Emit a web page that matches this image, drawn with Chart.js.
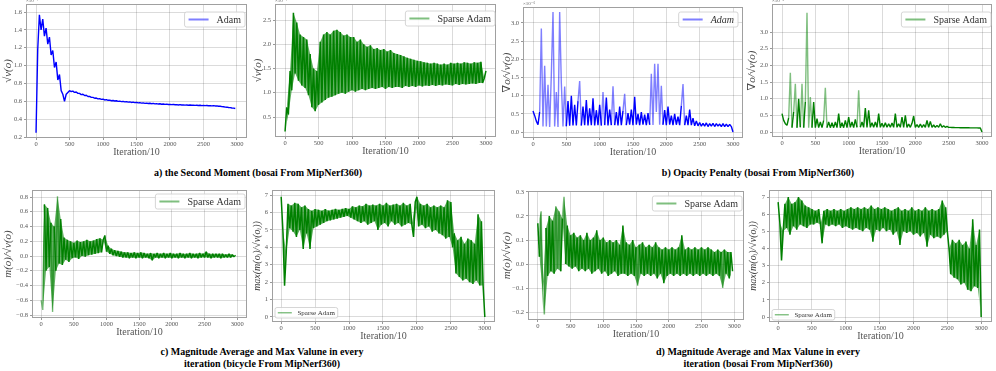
<!DOCTYPE html>
<html><head><meta charset="utf-8">
<script src="https://cdn.jsdelivr.net/npm/chart.js@4.4.1/dist/chart.umd.min.js"></script>
<style>
body{margin:0;background:#fff;width:996px;height:371px;overflow:hidden;position:relative;font-family:"Liberation Serif","DejaVu Serif",serif}
canvas{position:absolute}
.cap{position:absolute;text-align:center;font-weight:bold;font-size:10px;line-height:12px;color:#000;white-space:nowrap}
</style></head><body>
<canvas id="c0"></canvas><canvas id="c1"></canvas><canvas id="c2"></canvas><canvas id="c3"></canvas>
<canvas id="c4"></canvas><canvas id="c5"></canvas><canvas id="c6"></canvas><canvas id="c7"></canvas>
<div class="cap" style="left:0;top:167px;width:516px">a) the Second Moment (bosai From MipNerf360)</div>
<div class="cap" style="left:500px;top:167px;width:516px">b) Opacity Penalty (bosai From MipNerf360)</div>
<div class="cap" style="left:0;top:346px;width:524px">c) Magnitude Average and Max Valune in every<br>iteration (bicycle From MipNerf360)</div>
<div class="cap" style="left:500px;top:346px;width:516px">d) Magnitude Average and Max Valune in every<br>iteration (bosai From MipNerf360)</div>
<script>
// ---------------- data ----------------
const iterTicks = [0, 500, 1000, 1500, 2000, 2500, 3000];
const iterTickLabels = ['0', '500', '1000', '1500', '2000', '2500', '3000'];
const logEvery = 25; // one logged value every 25 (Iteration/10) units
const seriesAdam = 'Adam';
const seriesSparse = 'Sparse Adam';

const secondMomentAdam = [0.25,1.18,1.57,1.40,1.52,1.33,1.42,1.24,1.32,1.12,
 1.17,0.98,1.04,0.84,0.90,0.72,0.68,0.60,0.68,0.70,
 0.72,0.71,0.715,0.70,0.705,0.69,0.69,0.675,0.68,0.665,
 0.668,0.655,0.655,0.645,0.645,0.635,0.637,0.628,0.63,0.622,
 0.625,0.616,0.619,0.612,0.614,0.607,0.610,0.604,0.607,0.600,
 0.603,0.597,0.600,0.594,0.597,0.591,0.594,0.588,0.591,0.586,
 0.589,0.583,0.586,0.580,0.583,0.578,0.581,0.576,0.579,0.574,
 0.577,0.572,0.575,0.570,0.573,0.568,0.571,0.566,0.569,0.565,
 0.567,0.563,0.566,0.562,0.564,0.560,0.563,0.559,0.561,0.558,
 0.560,0.557,0.559,0.556,0.558,0.555,0.557,0.554,0.556,0.553,
 0.555,0.552,0.554,0.551,0.553,0.550,0.552,0.549,0.550,0.546,
 0.545,0.541,0.540,0.536,0.535,0.531,0.530,0.526,0.524,0.520];

const secondMomentSparse = [0.20,0.70,0.55,1.45,1.05,2.65,1.40,2.45,1.25,2.20,
 1.15,2.15,1.10,2.10,0.95,1.80,0.70,1.50,0.62,1.45,
 0.75,2.05,0.80,2.20,0.85,2.25,0.90,2.20,0.92,2.28,
 0.95,2.30,0.98,2.25,1.00,2.18,0.98,2.20,1.02,2.15,
 1.05,2.15,1.02,2.05,1.05,2.10,1.08,2.00,1.05,1.95,
 1.08,1.98,1.10,1.90,1.08,1.92,1.10,1.88,1.12,1.90,
 1.08,1.85,1.12,1.88,1.10,1.82,1.12,1.80,1.12,1.78,
 1.10,1.75,1.14,1.72,1.12,1.70,1.14,1.68,1.12,1.66,
 1.15,1.65,1.13,1.63,1.15,1.62,1.14,1.60,1.16,1.62,
 1.14,1.60,1.16,1.58,1.15,1.60,1.17,1.58,1.16,1.62,
 1.15,1.60,1.18,1.62,1.16,1.60,1.18,1.63,1.17,1.62,
 1.18,1.60,1.19,1.63,1.18,1.62,1.20,1.64,1.20,1.30,
 1.45];

const opacityAdam = [0.58,0.45,0.30,0.20,0.55,2.85,0.15,1.82,0.15,1.30,
 0.14,1.58,3.30,0.15,1.10,0.14,3.30,1.35,0.15,1.25,
 0.16,0.85,0.17,1.00,0.18,0.75,0.18,0.85,1.40,0.18,
 0.70,0.19,0.88,0.18,0.65,0.19,0.93,0.18,0.60,0.19,
 0.75,0.18,1.10,0.19,0.95,0.18,0.62,0.19,1.26,0.19,
 0.55,0.18,0.70,0.19,0.58,1.05,0.19,0.52,0.20,0.62,
 0.19,0.97,0.20,0.50,0.19,0.55,0.20,0.48,0.19,0.52,
 0.20,1.60,0.19,1.88,0.55,1.88,0.20,1.27,0.20,0.60,
 0.19,0.70,0.20,0.45,0.19,0.50,0.20,0.42,0.19,0.72,
 1.32,0.19,0.45,0.19,0.62,0.19,0.38,0.17,0.30,0.17,
 0.26,0.16,0.24,0.16,0.25,0.15,0.23,0.16,0.24,0.15,
 0.23,0.16,0.22,0.15,0.23,0.15,0.22,0.15,0.21,0.15,
 0.00];

const opacitySparse = [0.55,0.35,0.25,0.20,0.42,1.78,0.13,0.60,1.45,0.13,
 1.00,0.14,1.45,0.13,0.90,3.58,0.13,1.05,0.13,0.90,
 0.13,0.40,0.13,0.30,0.13,0.35,1.33,0.13,0.30,0.13,
 0.28,0.13,0.30,0.13,0.55,0.13,0.28,0.13,0.35,0.13,
 0.45,0.14,0.30,0.13,0.38,0.14,1.25,0.14,0.30,0.14,
 0.72,0.14,0.65,0.14,0.28,0.14,0.30,0.14,0.55,0.14,
 0.26,0.14,0.28,0.14,0.25,0.14,0.27,0.14,0.55,0.14,
 0.25,0.14,0.45,0.14,0.50,0.14,0.24,0.14,0.26,0.48,
 0.14,0.22,0.14,0.24,0.14,0.22,0.14,0.35,0.14,0.32,
 0.14,0.21,0.14,0.20,0.14,0.25,0.14,0.19,0.14,0.17,
 0.14,0.14,0.135,0.135,0.13,0.13,0.13,0.128,0.128,0.127,
 0.127,0.126,0.126,0.125,0.125,0.124,0.124,0.123,0.122,0.121,
 0.00];

const magAvgBicycle = [-0.60,-0.73,0.70,-0.20,0.65,-0.15,0.45,-0.76,0.40,-0.20,
 0.81,-0.10,0.50,-0.12,0.25,-0.05,0.22,-0.08,0.20,-0.03,
 0.18,-0.02,0.21,-0.04,0.19,0.00,0.20,-0.01,0.22,0.01,
 0.20,0.02,0.21,0.03,0.23,0.04,0.24,0.05,0.22,0.28,
 0.06,0.14,0.03,0.10,0.01,0.08,0.00,0.07,-0.01,0.06,
 -0.02,0.05,-0.02,0.05,-0.03,0.04,-0.02,0.05,-0.03,0.04,
 -0.02,0.05,-0.03,0.04,-0.02,0.03,-0.03,0.04,-0.06,0.03,
 -0.02,0.04,-0.03,0.03,-0.02,0.04,-0.03,0.03,-0.02,0.04,
 -0.03,0.03,-0.02,0.03,-0.03,0.04,-0.02,0.03,-0.03,0.03,
 -0.02,0.04,-0.03,0.03,-0.02,0.03,-0.03,0.04,-0.02,0.03,
 -0.02,0.06,-0.02,0.03,-0.03,0.03,-0.02,0.03,-0.02,0.03,
 -0.03,0.03,-0.02,0.02,-0.02,0.03,-0.02,0.02,-0.01,0.01];

const magMaxBicycle = [6.90,5.00,1.80,3.70,6.50,5.10,6.40,4.90,6.55,4.60,
 6.50,5.00,6.30,3.90,6.40,4.80,6.20,3.90,6.10,5.10,
 6.20,5.20,6.15,5.30,6.10,5.40,6.20,5.50,6.10,5.55,
 6.15,5.60,6.20,5.65,6.15,5.70,6.20,5.75,6.25,5.80,
 6.20,5.70,6.35,5.60,6.30,5.50,6.40,5.40,6.35,5.50,
 6.50,5.30,6.40,5.40,6.45,5.50,6.40,5.00,6.50,5.30,
 6.40,5.40,6.55,5.20,6.40,5.50,6.45,5.30,6.50,5.40,
 6.40,5.20,6.55,5.30,6.40,5.40,6.50,5.30,4.60,6.60,
 6.90,5.20,6.50,5.30,6.40,5.10,6.50,5.20,6.30,4.90,
 6.40,5.00,6.30,4.80,6.40,4.70,6.30,4.50,6.70,4.60,
 6.60,4.00,4.80,2.50,4.40,2.30,4.60,2.10,4.20,2.20,
 4.50,2.00,4.40,1.90,4.20,2.10,5.90,1.80,5.50,1.80,
 0.00];

const magAvgBosai = [0.17,0.03,0.22,-0.12,-0.21,0.15,-0.05,0.20,-0.03,0.18,
 -0.04,0.24,-0.02,0.22,-0.03,0.19,0.28,0.00,0.16,-0.01,
 0.12,-0.02,0.13,-0.01,0.11,-0.03,0.12,-0.02,0.10,-0.03,
 0.13,-0.02,0.10,-0.04,0.11,-0.03,0.14,-0.02,0.10,-0.04,
 0.11,-0.03,0.09,-0.05,0.10,-0.04,0.09,-0.03,0.10,-0.05,
 0.08,-0.04,0.16,-0.04,0.09,-0.05,0.08,-0.04,0.10,-0.05,
 0.07,-0.09,0.08,-0.04,0.09,-0.05,0.07,-0.04,0.08,-0.05,
 0.07,-0.04,0.09,-0.06,0.07,-0.04,0.06,-0.08,0.07,-0.05,
 0.06,-0.04,0.07,-0.05,0.06,-0.04,0.07,-0.05,0.12,-0.04,
 0.06,-0.05,0.07,-0.04,0.06,-0.05,0.07,-0.04,0.06,-0.05,
 0.07,-0.04,0.06,-0.05,0.07,-0.04,0.06,-0.05,0.05,-0.04,
 0.06,-0.05,0.05,-0.10,0.06,-0.04,0.05,-0.06,0.05,-0.03];

const magMaxBosai = [6.70,5.50,3.30,5.00,6.60,5.20,7.00,4.80,6.60,5.30,
 6.70,5.10,7.00,5.40,6.80,5.30,6.50,5.20,6.40,5.40,
 6.30,5.40,6.20,5.50,6.30,5.40,4.30,6.20,5.40,6.30,
 5.30,6.20,5.40,6.30,5.30,6.20,5.40,6.30,5.20,6.20,
 5.30,6.30,5.20,6.40,5.10,6.30,5.20,6.40,5.10,6.30,
 5.00,6.40,5.20,6.30,5.10,6.50,4.40,6.30,5.10,6.40,
 5.00,6.30,5.20,6.40,5.00,6.30,5.10,6.20,4.80,6.30,
 5.00,6.40,4.20,6.20,5.00,6.30,4.90,6.20,5.00,6.40,
 4.80,6.20,4.90,6.30,4.70,6.20,4.90,6.40,4.10,6.20,
 4.80,6.30,4.60,6.20,4.70,6.30,4.60,6.80,4.80,6.40,
 5.00,4.00,2.50,4.50,2.30,4.30,2.20,4.50,1.90,4.20,
 2.00,4.40,1.60,4.00,1.50,5.70,1.80,4.20,1.70,5.10,
 0.00];

const ticksA1 = [0.2, 0.4, 0.6, 0.8, 1.0, 1.2, 1.4, 1.6];
const labelsA1 = ['0.2', '0.4', '0.6', '0.8', '1.0', '1.2', '1.4', '1.6'];
const ticksA2 = [0.5, 1.0, 1.5, 2.0, 2.5];
const labelsA2 = ['0.5', '1.0', '1.5', '2.0', '2.5'];
const ticksB = [0, 0.5, 1.0, 1.5, 2.0, 2.5, 3.0];
const labelsB = ['0.0', '0.5', '1.0', '1.5', '2.0', '2.5', '3.0'];
const ticksC1 = [-0.8, -0.6, -0.4, -0.2, 0, 0.2, 0.4, 0.6, 0.8];
const labelsC1 = ['\u22120.8', '\u22120.6', '\u22120.4', '\u22120.2', '0.0', '0.2', '0.4', '0.6', '0.8'];
const ticksD1 = [-0.2, -0.1, 0, 0.1, 0.2, 0.3];
const labelsD1 = ['\u22120.2', '\u22120.1', '0.0', '0.1', '0.2', '0.3'];
const ticksMax = [0, 1, 2, 3, 4, 5, 6, 7];
const labelsMax = ['0', '1', '2', '3', '4', '5', '6', '7'];

// ---------------- drawing ----------------
const SERIF = '"Liberation Serif", "DejaVu Serif", serif';
const BLUE = '#0000ff', BLUE_L = 'rgba(0,0,255,0.5)';
const GREEN = '#008000', GREEN_L = 'rgba(0,128,0,0.5)', GREEN_F = 'rgba(0,128,0,0.62)';

function toPoints(vals) { return vals.map((v, i) => ({ x: i * logEvery, y: v })); }

const decorPlugin = {
  id: 'decor',
  afterDraw(chart, args, o) {
    const ctx = chart.ctx, a = chart.chartArea;
    ctx.save();
    ctx.strokeStyle = '#a0a0a0'; ctx.lineWidth = 1;
    ctx.strokeRect(a.left + 0.5, a.top + 0.5, a.right - a.left - 1, a.bottom - a.top - 1);
    if (o.offset) {
      ctx.fillStyle = '#666'; ctx.font = '5px ' + SERIF;
      ctx.textAlign = 'left'; ctx.textBaseline = 'bottom';
      ctx.fillText(o.offset, a.left, a.top - 0.5);
    }
    if (o.text) {
      const fs = o.size;
      ctx.font = (o.italic ? 'italic ' : '') + fs + 'px ' + SERIF;
      const tw = ctx.measureText(o.text).width;
      const pad = 0.4 * fs, hl = 2 * fs, hp = 0.8 * fs;
      const w = pad * 2 + hl + hp + tw, h = fs * 1.5;
      let x, y;
      if (o.pos === 'ur') { x = a.right - o.inset[0] - w; y = a.top + o.inset[1]; }
      else { x = a.left + o.inset[0]; y = a.bottom - o.inset[1] - h; }
      ctx.fillStyle = 'rgba(255,255,255,0.85)'; ctx.strokeStyle = '#cccccc'; ctx.lineWidth = 0.8;
      ctx.beginPath();
      if (ctx.roundRect) ctx.roundRect(x, y, w, h, 2); else ctx.rect(x, y, w, h);
      ctx.fill(); ctx.stroke();
      ctx.strokeStyle = o.color; ctx.lineWidth = fs * 0.2;
      ctx.beginPath(); ctx.moveTo(x + pad, y + h / 2); ctx.lineTo(x + pad + hl, y + h / 2); ctx.stroke();
      ctx.fillStyle = '#333'; ctx.textAlign = 'left'; ctx.textBaseline = 'middle';
      ctx.fillText(o.text, x + pad + hl + hp, y + h / 2 + 0.5);
    }
    ctx.restore();
  }
};

function build(cfg) {
  const el = document.getElementById(cfg.id);
  const padT = 8, padR = 8, xH = 19;
  const w = cfg.yW + (cfg.R - cfg.L) + padR;
  const h = padT + (cfg.B - cfg.T) + xH;
  el.width = w; el.height = h;
  el.style.width = w + 'px'; el.style.height = h + 'px';
  el.style.left = (cfg.L - cfg.yW) + 'px';
  el.style.top = (cfg.T - padT) + 'px';
  const light = cfg.light;
  const pts = toPoints(cfg.values);
  const datasets = [{
    label: cfg.name, data: pts,
    borderColor: cfg.color, borderWidth: cfg.lw, borderJoinStyle: 'bevel',
    pointRadius: 0, tension: 0, fill: false,
    segment: { borderColor: c => {
      if (!light) return undefined;
      const y0 = c.p0.parsed.y, y1 = c.p1.parsed.y;
      if ((light.above !== undefined && Math.max(y0, y1) > light.above) ||
          (light.below !== undefined && Math.min(y0, y1) < light.below)) return cfg.lightColor;
      return undefined;
    } }
  }];
  if (cfg.band) {
    datasets.push({ data: pts.filter((p, i) => i % 2 === 0), borderWidth: 0, pointRadius: 0, tension: 0,
                    backgroundColor: GREEN_F, fill: '+1' });
    datasets.push({ data: pts.filter((p, i) => i % 2 === 1), borderWidth: 0, pointRadius: 0, tension: 0, fill: false });
  }
  new Chart(el, {
    type: 'line',
    data: { datasets },
    options: {
      responsive: false, animation: false, devicePixelRatio: 1,
      layout: { padding: { top: padT, right: padR, left: 0, bottom: 0 } },
      plugins: {
        legend: { display: false }, tooltip: { enabled: false },
        filler: { propagate: false },
        decor: { offset: cfg.offset, text: cfg.name, color: cfg.lightColor, size: cfg.lsize,
                 pos: cfg.lpos, inset: cfg.linset, italic: cfg.litalic }
      },
      scales: {
        x: {
          type: 'linear', min: cfg.xr[0], max: cfg.xr[1],
          afterBuildTicks: s => { s.ticks = iterTicks.map(v => ({ value: v })); },
          afterFit: s => { s.height = xH; },
          ticks: { callback: (v, i) => iterTickLabels[i], font: { family: SERIF, size: 6.5 }, color: '#555',
                   padding: 0, maxRotation: 0, autoSkip: false },
          grid: { color: 'rgba(0,0,0,0.14)', tickLength: 2, tickColor: '#999' },
          border: { display: false },
          title: { display: true, text: 'Iteration/10', font: { family: SERIF, size: 10, lineHeight: 1 },
                   color: '#555', padding: { top: 0, bottom: 0 } }
        },
        y: {
          type: 'linear', min: cfg.yr[0], max: cfg.yr[1],
          afterBuildTicks: s => { s.ticks = cfg.yTicks.map(v => ({ value: v })); },
          afterFit: s => { s.width = cfg.yW; },
          ticks: { callback: (v, i) => cfg.yLabels[i], font: { family: SERIF, size: 6.5 }, color: '#555',
                   padding: 2, autoSkip: false },
          grid: { color: 'rgba(0,0,0,0.14)', tickLength: 2, tickColor: '#999' },
          border: { display: false },
          title: { display: true, text: cfg.yTitle, font: { family: SERIF, size: cfg.ytSize || 11, style: 'italic', lineHeight: 1 },
                   color: '#444', padding: { top: cfg.ytPad, bottom: 0 } }
        }
      }
    },
    plugins: [decorPlugin]
  });
}

const charts = [
  { id: 'c0', values: secondMomentAdam, name: seriesAdam, color: BLUE, lightColor: BLUE_L, lw: 1.4,
    L: 26, T: 4, R: 247, B: 138, yW: 26, xr: [-150, 3150], yr: [0.19, 1.69],
    yTicks: ticksA1, yLabels: labelsA1, yTitle: '\u221Av(o)', ytPad: 3, offset: '\u00D710\u207B\u2077',
    lsize: 10, lpos: 'ur', linset: [2, 8] },
  { id: 'c1', values: secondMomentSparse, name: seriesSparse, color: GREEN, lightColor: GREEN_L, lw: 1.5, band: true,
    L: 275, T: 4, R: 496, B: 137, yW: 25, xr: [-150, 3150], yr: [0.088, 2.83],
    yTicks: ticksA2, yLabels: labelsA2, yTitle: '\u221Av(o)', ytPad: 3, offset: '\u00D710\u207B\u2077',
    lsize: 10, lpos: 'ur', linset: [1, 7] },
  { id: 'c2', values: opacityAdam, name: seriesAdam, color: BLUE, lightColor: BLUE_L, light: { above: 1.0 }, lw: 1.4,
    L: 523, T: 7, R: 743, B: 138, yW: 23, xr: [-150, 3150], yr: [-0.165, 3.44],
    yTicks: ticksB, yLabels: labelsB, yTitle: '\u2207o/\u221Av(o)', ytPad: 2, offset: '\u00D710\u207B\u2076',
    lsize: 10, lpos: 'ur', linset: [5, 5], litalic: true },
  { id: 'c3', values: opacitySparse, name: seriesSparse, color: GREEN, lightColor: GREEN_L, light: { above: 1.0 }, lw: 1.4,
    L: 772, T: 4, R: 992, B: 137, yW: 27, xr: [-150, 3150], yr: [-0.15, 3.84],
    yTicks: ticksB, yLabels: labelsB, yTitle: '\u2207o/\u221Av(o)', ytPad: 2, offset: '\u00D710\u207B\u2076',
    lsize: 10, lpos: 'ur', linset: [1, 8] },
  { id: 'c4', values: magAvgBicycle, name: seriesSparse, color: GREEN, lightColor: GREEN_L, light: { above: 0.72, below: -0.3 }, lw: 1.4, band: true,
    L: 32, T: 190, R: 247, B: 318, yW: 32, xr: [-140, 3150], yr: [-0.84, 0.895],
    yTicks: ticksC1, yLabels: labelsC1, yTitle: 'm(o)/\u221Av(o)', ytPad: 3,
    lsize: 10, lpos: 'ur', linset: [2, 4] },
  { id: 'c5', values: magMaxBicycle, name: seriesSparse, color: GREEN, lightColor: GREEN_L, lw: 1.5, band: true,
    L: 272, T: 190, R: 495, B: 322, yW: 22, xr: [-135, 3150], yr: [-0.29, 7.29],
    yTicks: ticksMax, yLabels: labelsMax, yTitle: 'max(m(o\u1D62)/\u221Av(o\u1D62))', ytSize: 10, ytPad: 2,
    lsize: 7, lpos: 'll', linset: [3, 4] },
  { id: 'c6', values: magAvgBosai, name: seriesSparse, color: GREEN, lightColor: GREEN_L, light: { above: 0.2, below: -0.08 }, lw: 1.5, band: true,
    L: 528, T: 191, R: 744, B: 320, yW: 28, xr: [-150, 3150], yr: [-0.233, 0.304],
    yTicks: ticksD1, yLabels: labelsD1, yTitle: 'm(o)/\u221Av(o)', ytPad: 2,
    lsize: 10, lpos: 'ur', linset: [2, 5] },
  { id: 'c7', values: magMaxBosai, name: seriesSparse, color: GREEN, lightColor: GREEN_L, lw: 1.5, band: true,
    L: 769, T: 190, R: 992, B: 322, yW: 23, xr: [-135, 3160], yr: [-0.29, 7.41],
    yTicks: ticksMax, yLabels: labelsMax, yTitle: 'max(m(o\u1D62)/\u221Av(o\u1D62))', ytSize: 10, ytPad: 2,
    lsize: 7, lpos: 'll', linset: [3, 2] }
];
charts.forEach(build);
</script>
</body></html>
